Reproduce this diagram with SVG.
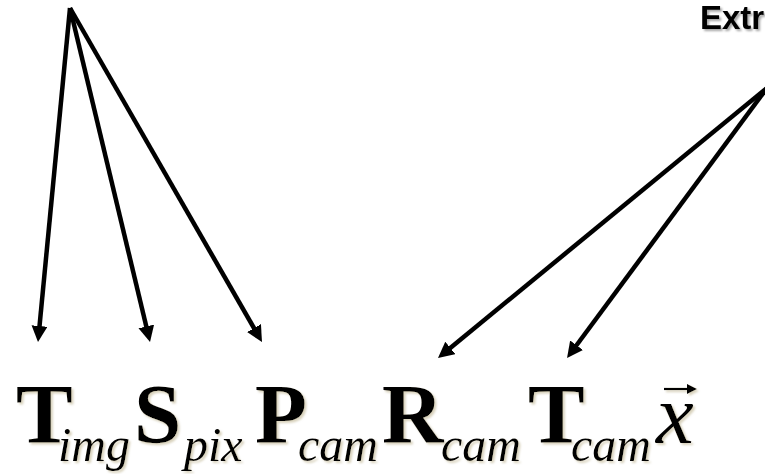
<svg xmlns="http://www.w3.org/2000/svg" width="765" height="474" viewBox="0 0 765 474">
<style>
.conn{stroke:#000;stroke-width:4.5;fill:none;marker-end:url(#ah)}
.formula{font-family:"Liberation Serif","Times New Roman",serif;fill:#000}
.big{font-weight:bold;font-size:85px}
.tt{letter-spacing:-17px}
.sub{font-style:italic;font-size:48px}
.var{font-style:italic;font-size:85px}
.lbl{font-family:"Liberation Sans",Arial,sans-serif;font-weight:bold;font-size:33px;fill:#000}
</style>
<defs>
<marker id="ah" markerUnits="userSpaceOnUse" markerWidth="20" markerHeight="18" refX="6" refY="8" orient="auto">
<path d="M0,0 L16,8 L0,16 z" fill="#000"/>
</marker>
<marker id="vec" markerUnits="userSpaceOnUse" markerWidth="12" markerHeight="12" refX="3" refY="5" orient="auto">
<path d="M0,0 L10,5 L0,10 z" fill="#000"/>
</marker>
<filter id="sh" x="-10%" y="-10%" width="130%" height="140%">
<feDropShadow dx="2" dy="2" stdDeviation="1" flood-color="#c8bfa0" flood-opacity="0.7"/>
</filter>
<filter id="sh2" x="-10%" y="-10%" width="130%" height="140%">
<feDropShadow dx="2" dy="2" stdDeviation="1.2" flood-color="#000" flood-opacity="0.35"/>
</filter>
</defs>
<g id="label-extr">
<text class="lbl" x="700" y="29" filter="url(#sh2)">Extr</text>
</g>
<g id="connectors">
<line class="conn" x1="70" y1="8" x2="38.95" y2="332"/>
<line class="conn" x1="70" y1="8" x2="147.7" y2="332.3"/>
<line class="conn" x1="70" y1="8" x2="257" y2="333.3"/>
<line class="conn" x1="767" y1="88" x2="445.7" y2="351.7"/>
<line class="conn" x1="767" y1="88" x2="573" y2="350"/>
</g>
<g id="formula" filter="url(#sh)">
<text class="formula"><tspan class="big tt" x="16" y="443">T</tspan><tspan class="sub" x="58" y="461">img</tspan><tspan class="big" x="134" y="443">S</tspan><tspan class="sub" x="184" y="461">pix</tspan><tspan class="big" x="255" y="443">P</tspan><tspan class="sub" x="298" y="461">cam</tspan><tspan class="big" x="382" y="443">R</tspan><tspan class="sub" x="441" y="461">cam</tspan><tspan class="big tt" x="528" y="443">T</tspan><tspan class="sub" x="571" y="461">cam</tspan><tspan class="var" x="656" y="443">x</tspan></text>
<line x1="664" y1="389" x2="690" y2="389" stroke="#000" stroke-width="2.2" marker-end="url(#vec)"/>
</g>
</svg>
